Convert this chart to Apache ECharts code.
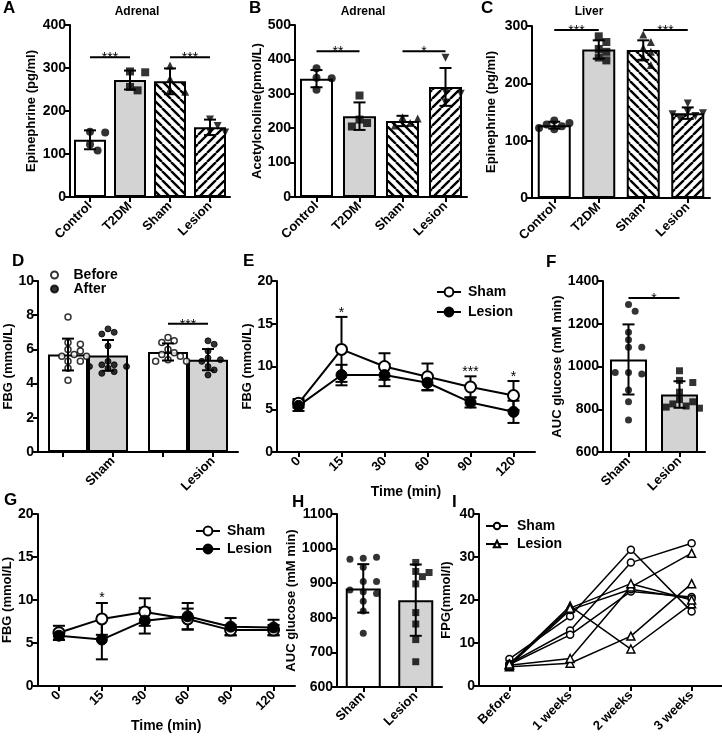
<!DOCTYPE html>
<html><head><meta charset="utf-8">
<script src="https://cdn.jsdelivr.net/npm/echarts@6/dist/echarts.min.js"></script>
<style>html,body{margin:0;padding:0;background:#fff}#c{width:722px;height:739px}</style>
</head><body><div id="c"></div>
<script>
// ---------------- DATA ----------------
const catsABC = ['Control', 'T2DM', 'Sham', 'Lesion'];
// A: Adrenal epinephrine
const A_mean = [133, 272, 269, 162];
const A_sd = [22, 22, 30, 18];
const A_pts = [[152, 150, 122, 108], [292, 290, 256, 248], [306, 275, 250, 245], [180, 165, 152, 150]];
// B: Adrenal acetylcholine
const B_mean = [344, 235, 221, 320];
const B_sd = [25, 40, 15, 55];
const B_pts = [[374, 347, 345, 312], [295, 225, 215, 205], [232, 228, 215, 208], [405, 305, 300, 275]];
// C: Liver epinephrine
const C_mean = [127, 259, 258, 148];
const C_sd = [6, 16, 17, 10];
const C_pts = [[135, 131, 128, 125, 122, 120], [282, 272, 260, 255, 245, 240], [285, 272, 262, 255, 245, 232], [165, 150, 148, 146, 143, 138]];
// D: FBG before / after
const D_cats = ['Sham', 'Lesion'];
const D_before_mean = [5.7, 5.85];
const D_before_sd = [0.93, 0.5];
const D_after_mean = [5.65, 5.4];
const D_after_sd = [0.9, 0.62];
const D_before_pts = [[7.9, 6.4, 6.3, 6.0, 5.9, 5.7, 5.6, 5.6, 5.3, 5.3, 4.9, 4.2], [6.7, 6.5, 6.4, 6.0, 5.8, 5.7, 5.6, 5.4, 5.3, 5.3]];
const D_after_pts = [[7.2, 7.0, 6.9, 6.2, 5.3, 5.1, 5.1, 5.0, 5.0, 4.9, 4.7, 4.6], [6.5, 6.3, 5.9, 5.5, 5.4, 5.3, 5.0, 4.8, 4.5]];
// E: OGTT
const time_cats = ['0', '15', '30', '60', '90', '120'];
const E_sham = [5.7, 12.0, 10.0, 8.8, 7.6, 6.6];
const E_sham_sd = [0.5, 3.8, 1.55, 1.55, 1.25, 1.7];
const E_lesion = [5.4, 9.0, 9.0, 8.1, 5.8, 4.7];
const E_lesion_sd = [0.6, 1.2, 1.3, 0.9, 0.6, 1.3];
// F: AUC
const FH_cats = ['Sham', 'Lesion'];
const F_mean = [1033, 869];
const F_sd = [164, 62];
const F_pts = [[1290, 1258, 1160, 1125, 1090, 1090, 972, 965, 972, 890, 835, 750], [980, 935, 925, 880, 845, 835, 825, 815, 810, 805]];
// G: ITT
const G_sham = [6.2, 7.8, 8.6, 7.8, 6.5, 6.5];
const G_sham_sd = [0.8, 1.85, 1.6, 1.2, 0.6, 0.6];
const G_lesion = [5.85, 5.4, 7.6, 8.1, 6.9, 6.8];
const G_lesion_sd = [0.5, 2.3, 1.5, 1.55, 1.0, 0.9];
// H: AUC
const H_mean = [885, 851];
const H_sd = [70, 103];
const H_pts = [[972, 975, 969, 946, 905, 905, 875, 870, 880, 848, 820, 755], [960, 934, 931, 919, 898, 815, 782, 737, 673]];
// I: FPG individual
const I_cats = ['Before', '1 weeks', '2 weeks', '3 weeks'];
const I_sham = [[6.3, 16.2, 31.7, 17.3], [5.2, 12.9, 28.7, 33.2], [5.0, 11.9, 22.0, 20.7], [4.8, 17.7, 22.5, 20.3]];
const I_lesion = [[5.0, 18.6, 8.6, 19.1], [4.5, 5.3, 11.6, 23.8], [4.8, 6.4, 23.0, 30.9], [5.1, 18.1, 23.8, 20.0]];

// ---------------- BUILD ----------------
const FONT = '"Liberation Sans", Arial, sans-serif';
const grids = [], xAxes = [], yAxes = [], series = [], legends = [], graphics = [];

function hatch(dir) {
  const s = 9;
  const c = document.createElement('canvas'); c.width = s; c.height = s;
  const ctx = c.getContext('2d');
  ctx.fillStyle = '#fff'; ctx.fillRect(0, 0, s, s);
  ctx.strokeStyle = '#000'; ctx.lineWidth = 2.4; ctx.beginPath();
  for (let k = -1; k <= 1; k++) {
    if (dir > 0) { ctx.moveTo(k * s, s); ctx.lineTo(k * s + s, 0); }
    else { ctx.moveTo(k * s, 0); ctx.lineTo(k * s + s, s); }
  }
  ctx.stroke();
  return { image: c, repeat: 'repeat' };
}
const WHITE = '#ffffff', GRAY = '#d3d3d3';
const HATCH_SHAM = hatch(-1), HATCH_LES = hatch(1);

function addGrid(g) { grids.push(g); return grids.length - 1; }
function addY(gi, min, max, interval, name, gap) {
  yAxes.push({
    gridIndex: gi, type: 'value', min, max, interval,
    axisLine: { show: true, lineStyle: { color: '#000', width: 2 } },
    axisTick: { show: true, length: 5, lineStyle: { color: '#000', width: 2 } },
    axisLabel: { color: '#000', fontSize: 14, fontWeight: 'bold', fontFamily: FONT, margin: 4, formatter: v => String(v) },
    splitLine: { show: false },
    name, nameLocation: 'middle', nameGap: gap,
    nameTextStyle: { color: '#000', fontSize: 13, fontWeight: 'bold', fontFamily: FONT }
  });
  return yAxes.length - 1;
}
function addX(gi, data, opts) {
  const ax = {
    gridIndex: gi, type: 'category', data, boundaryGap: true, position: 'bottom',
    axisLine: { show: true, onZero: false, lineStyle: { color: '#000', width: 2 } },
    axisTick: { show: true, alignWithLabel: true, length: 5, lineStyle: { color: '#000', width: 2 } },
    axisLabel: { color: '#000', fontSize: 13, fontWeight: 'bold', fontFamily: FONT, rotate: 45, interval: 0, margin: 7 },
    splitLine: { show: false }
  };
  if (opts) Object.keys(opts).forEach(k => {
    ax[k] = (typeof opts[k] === 'object' && !Array.isArray(opts[k]) && ax[k]) ? Object.assign({}, ax[k], opts[k]) : opts[k];
  });
  xAxes.push(ax);
  return xAxes.length - 1;
}

function swarm(vals, pxPerUnit, size) {
  const placed = [], out = [];
  const step = size * 0.95;
  vals.forEach(v => {
    const y = v * pxPerUnit;
    let off = 0;
    for (let k = 0; k < 40; k++) {
      const cand = k === 0 ? 0 : (k % 2 === 1 ? 1 : -1) * Math.ceil(k / 2) * step;
      if (placed.every(p => Math.hypot(p[0] - cand, p[1] - y) >= size)) { off = cand; break; }
    }
    placed.push([off, y]); out.push(off);
  });
  return out;
}

function errSeries(xi, yi, means, sds, cap, dx, lw) {
  return {
    type: 'custom', xAxisIndex: xi, yAxisIndex: yi, z: 6, silent: true,
    data: means.map((m, i) => [i, m - sds[i], m + sds[i]]),
    encode: { x: 0, y: [1, 2] },
    renderItem(params, api) {
      const x = api.value(0);
      const lo = api.coord([x, api.value(1)]), hi = api.coord([x, api.value(2)]);
      const px = lo[0] + (dx || 0);
      const st = { stroke: '#000', lineWidth: lw || 2 };
      return {
        type: 'group', children: [
          { type: 'line', shape: { x1: px, y1: lo[1], x2: px, y2: hi[1] }, style: st },
          { type: 'line', shape: { x1: px - cap, y1: hi[1], x2: px + cap, y2: hi[1] }, style: st },
          { type: 'line', shape: { x1: px - cap, y1: lo[1], x2: px + cap, y2: lo[1] }, style: st }
        ]
      };
    }
  };
}

function sigSeries(xi, yi, items, texts, dx1, dx2) {
  return {
    type: 'custom', xAxisIndex: xi, yAxisIndex: yi, z: 8, silent: true,
    data: items, encode: { x: [0, 1], y: 2 },
    renderItem(params, api) {
      const p1 = api.coord([api.value(0), api.value(2)]);
      const p2 = api.coord([api.value(1), api.value(2)]);
      const x1 = p1[0] + (dx1 || 0), x2 = p2[0] + (dx2 || 0);
      const ch = [];
      if (api.value(0) !== api.value(1) || dx1 !== dx2) {
        ch.push({ type: 'line', shape: { x1, y1: p1[1], x2, y2: p1[1] }, style: { stroke: '#000', lineWidth: 2 } });
      }
      ch.push({ type: 'text', x: (x1 + x2) / 2, y: p1[1] + 1, style: { text: texts[params.dataIndex], fill: '#000', fontSize: 14, fontFamily: FONT, align: 'center', verticalAlign: 'middle' } });
      return { type: 'group', children: ch };
    }
  };
}

function barPanel(cfg) {
  const gi = addGrid(cfg.grid);
  const xi = addX(gi, cfg.cats);
  const yi = addY(gi, cfg.min, cfg.max, cfg.interval, cfg.yname, cfg.gap);
  const ppu = cfg.grid.height / (cfg.max - cfg.min);
  series.push({
    type: 'bar', xAxisIndex: xi, yAxisIndex: yi, barWidth: cfg.barWidth, silent: true, z: 2,
    data: cfg.means.map((m, i) => ({ value: m, itemStyle: { color: cfg.fills[i], borderColor: '#000', borderWidth: 2 } }))
  });
  series.push(errSeries(xi, yi, cfg.means, cfg.sds, 6, 0, 2));
  cfg.pts.forEach((arr, i) => {
    const offs = swarm(arr, ppu, cfg.symSize);
    const sym = cfg.symbols[i];
    series.push({
      type: 'scatter', xAxisIndex: xi, yAxisIndex: yi, z: 5, silent: true,
      symbol: sym.s, symbolRotate: sym.r || 0, symbolSize: cfg.symSize,
      itemStyle: { color: '#000' },
      data: arr.map((v, j) => ({ value: [i, v], symbolOffset: [offs[j], 0] }))
    });
  });
  if (cfg.sig) series.push(sigSeries(xi, yi, cfg.sig, cfg.sigText));
  return { gi, xi, yi };
}

const SYM4 = [{ s: 'circle' }, { s: 'rect' }, { s: 'triangle' }, { s: 'triangle', r: 180 }];

// A
barPanel({
  grid: { left: 70, top: 25, width: 160, height: 172 }, cats: catsABC, min: 0, max: 400, interval: 100,
  yname: 'Epinephrine (pg/ml)', gap: 32, barWidth: 32, means: A_mean, sds: A_sd, pts: A_pts,
  fills: [WHITE, GRAY, HATCH_SHAM, HATCH_LES], symbols: SYM4, symSize: 8,
  sig: [[0, 1, 325], [2, 3, 325]], sigText: ['***', '***']
});
// B
barPanel({
  grid: { left: 295, top: 25, width: 172, height: 172 }, cats: catsABC, min: 0, max: 500, interval: 100,
  yname: 'Acetylcholine(pmol/L)', gap: 26, barWidth: 33, means: B_mean, sds: B_sd, pts: B_pts,
  fills: [WHITE, GRAY, HATCH_SHAM, HATCH_LES], symbols: SYM4, symSize: 8,
  sig: [[0, 1, 424], [2, 3, 424]], sigText: ['**', '*']
});
// C
barPanel({
  grid: { left: 532, top: 26, width: 178, height: 172 }, cats: catsABC, min: 0, max: 300, interval: 100,
  yname: 'Epinephrine (pg/ml)', gap: 34, barWidth: 33, means: C_mean, sds: C_sd, pts: C_pts,
  fills: [WHITE, GRAY, HATCH_SHAM, HATCH_LES], symbols: SYM4, symSize: 8,
  sig: [[0, 1, 293], [2, 3, 293]], sigText: ['***', '***']
});

// D
(function () {
  const grid = { left: 38, top: 281, width: 200, height: 171 };
  const gi = addGrid(grid);
  const xi = addX(gi, D_cats, { axisTick: { show: false }, axisLabel: { show: false } });
  const xt = addX(gi, [' ', 'Sham', '  ', 'Lesion'], { axisLine: { show: false } });
  const yi = addY(gi, 0, 10, 2, 'FBG (mmol/L)', 20);
  const ppu = grid.height / 10;
  series.push({ type: 'bar', name: 'barB', xAxisIndex: xi, yAxisIndex: yi, barWidth: 40, barGap: '0%', silent: true, z: 2,
    data: D_before_mean, itemStyle: { color: WHITE, borderColor: '#000', borderWidth: 2 } });
  series.push({ type: 'bar', name: 'barA', xAxisIndex: xi, yAxisIndex: yi, barWidth: 40, barGap: '0%', silent: true, z: 2,
    data: D_after_mean, itemStyle: { color: GRAY, borderColor: '#000', borderWidth: 2 } });
  series.push(errSeries(xi, yi, D_before_mean, D_before_sd, 6, -20, 2));
  series.push(errSeries(xi, yi, D_after_mean, D_after_sd, 6, 20, 2));
  const bdata = [], adata = [];
  D_before_pts.forEach((arr, i) => { const o = swarm(arr, ppu, 6.5); arr.forEach((v, j) => bdata.push({ value: [i, v], symbolOffset: [-20 + o[j], 0] })); });
  D_after_pts.forEach((arr, i) => { const o = swarm(arr, ppu, 6.5); arr.forEach((v, j) => adata.push({ value: [i, v], symbolOffset: [20 + o[j], 0] })); });
  series.push({ type: 'scatter', name: 'D:Before', xAxisIndex: xi, yAxisIndex: yi, z: 5, silent: true, symbol: 'circle', symbolSize: 6,
    itemStyle: { color: '#fff', borderColor: '#000', borderWidth: 1.5 }, data: bdata });
  series.push({ type: 'scatter', name: 'D:After', xAxisIndex: xi, yAxisIndex: yi, z: 5, silent: true, symbol: 'circle', symbolSize: 6,
    itemStyle: { color: '#000', borderColor: '#000', borderWidth: 1 }, data: adata });
  series.push(sigSeries(xi, yi, [[1, 1, 7.5]], ['***'], -20, 20));
  legends.push({ data: ['D:Before', 'D:After'], left: 50, top: 268, itemWidth: 12, itemHeight: 7, itemGap: 0, textPad: 8 });
})();

function linePanel(cfg) {
  const gi = addGrid(cfg.grid);
  const xi = addX(gi, cfg.cats, { name: cfg.xname, nameLocation: 'middle', nameGap: cfg.xgap,
    nameTextStyle: { color: '#000', fontSize: 14, fontWeight: 'bold', fontFamily: FONT } });
  const yi = addY(gi, cfg.min, cfg.max, cfg.interval, cfg.yname, cfg.gap);
  series.push(errSeries(xi, yi, cfg.sham, cfg.shamSd, 6, 0, 2));
  series.push(errSeries(xi, yi, cfg.les, cfg.lesSd, 6, 0, 2));
  series.push({ type: 'line', name: cfg.key + ':Sham', xAxisIndex: xi, yAxisIndex: yi, data: cfg.sham, z: 7, silent: true,
    symbol: 'circle', symbolSize: 11, showAllSymbol: true,
    lineStyle: { color: '#000', width: 2 }, itemStyle: { color: '#fff', borderColor: '#000', borderWidth: 2 } });
  series.push({ type: 'line', name: cfg.key + ':Lesion', xAxisIndex: xi, yAxisIndex: yi, data: cfg.les, z: 7, silent: true,
    symbol: 'circle', symbolSize: 11, showAllSymbol: true,
    lineStyle: { color: '#000', width: 2 }, itemStyle: { color: '#000', borderColor: '#000', borderWidth: 1 } });
  series.push(sigSeries(xi, yi, cfg.sig, cfg.sigText, 0, 0));
  legends.push({ data: [cfg.key + ':Sham', cfg.key + ':Lesion'], left: cfg.legLeft, top: cfg.legTop, itemWidth: 24, itemHeight: 11, itemGap: cfg.legGap });
}

// E
linePanel({
  key: 'E', grid: { left: 277, top: 281, width: 258, height: 171 }, cats: time_cats, min: 0, max: 20, interval: 5,
  yname: 'FBG (mmol/L)', gap: 21, xname: 'Time (min)', xgap: 33,
  sham: E_sham, shamSd: E_sham_sd, les: E_lesion, lesSd: E_lesion_sd,
  sig: [[1, 1, 16.4], [4, 4, 9.5], [5, 5, 8.9]], sigText: ['*', '***', '*'],
  legLeft: 436, legTop: 285, legGap: 6
});
// F
barPanel({
  grid: { left: 603, top: 281, width: 102, height: 171 }, cats: FH_cats, min: 600, max: 1400, interval: 200,
  yname: 'AUC glucose (mM min)', gap: 35, barWidth: 37, means: F_mean, sds: F_sd, pts: F_pts,
  fills: [WHITE, GRAY], symbols: [{ s: 'circle' }, { s: 'rect' }], symSize: 7,
  sig: [[0, 1, 1320]], sigText: ['*']
});
// G
linePanel({
  key: 'G', grid: { left: 37, top: 514, width: 258, height: 172 }, cats: time_cats, min: 0, max: 20, interval: 5,
  yname: 'FBG (mmol/L)', gap: 21, xname: 'Time (min)', xgap: 33,
  sham: G_sham, shamSd: G_sham_sd, les: G_lesion, lesSd: G_lesion_sd,
  sig: [[1, 1, 10.35]], sigText: ['*'],
  legLeft: 195, legTop: 524, legGap: 4
});
// H
barPanel({
  grid: { left: 337, top: 514, width: 105, height: 173 }, cats: FH_cats, min: 600, max: 1100, interval: 100,
  yname: 'AUC glucose (mM min)', gap: 28, barWidth: 35, means: H_mean, sds: H_sd, pts: H_pts,
  fills: [WHITE, GRAY], symbols: [{ s: 'circle' }, { s: 'rect' }], symSize: 7
});
// I
(function () {
  const gi = addGrid({ left: 479, top: 514, width: 258, height: 172 });
  const xi = addX(gi, I_cats);
  const yi = addY(gi, 0, 40, 10, 'FPG(mmol/l)', 26);
  I_sham.forEach(arr => series.push({ type: 'line', name: 'I:Sham', xAxisIndex: xi, yAxisIndex: yi, data: arr, silent: true, z: 5,
    symbol: 'circle', symbolSize: 7, lineStyle: { color: '#000', width: 1.5 }, itemStyle: { color: '#fff', borderColor: '#000', borderWidth: 1.5 } }));
  I_lesion.forEach(arr => series.push({ type: 'line', name: 'I:Lesion', xAxisIndex: xi, yAxisIndex: yi, data: arr, silent: true, z: 5,
    symbol: 'triangle', symbolSize: 8, lineStyle: { color: '#000', width: 1.5 }, itemStyle: { color: '#fff', borderColor: '#000', borderWidth: 1.5 } }));
  legends.push({ data: ['I:Sham', 'I:Lesion'], left: 485, top: 519, itemWidth: 22, itemHeight: 8, itemGap: 4, textPad: 4 });
})();

legends.forEach(l => {
  l.orient = 'vertical'; l.selectedMode = false;
  l.textStyle = { color: '#000', fontSize: 14, fontWeight: 'bold', fontFamily: FONT, padding: [0, 0, 0, l.textPad || 2] };
  delete l.textPad;
  l.formatter = n => n.split(':')[1];
  l.padding = 0;
});

// panel letters and titles
[['A', 3, 0], ['B', 249, 0], ['C', 481, 0], ['D', 12, 253], ['E', 243, 253], ['F', 546, 254], ['G', 4, 492], ['H', 292, 494], ['I', 452, 494]]
  .forEach(t => graphics.push({ type: 'text', left: t[1], top: t[2], style: { text: t[0], fontSize: 17, fontWeight: 'bold', fontFamily: FONT, fill: '#000' } }));
[['Adrenal', 137], ['Adrenal', 363], ['Liver', 589]]
  .forEach(t => graphics.push({ type: 'text', x: t[1], y: 12, style: { text: t[0], fontSize: 12, fontWeight: 'bold', fontFamily: FONT, fill: '#000', align: 'center', verticalAlign: 'middle' } }));

const chart = echarts.init(document.getElementById('c'), null, { renderer: 'canvas' });
chart.setOption({
  animation: false, backgroundColor: '#fff',
  grid: grids, xAxis: xAxes, yAxis: yAxes, series, legend: legends, graphic: graphics
});
</script></body></html>
